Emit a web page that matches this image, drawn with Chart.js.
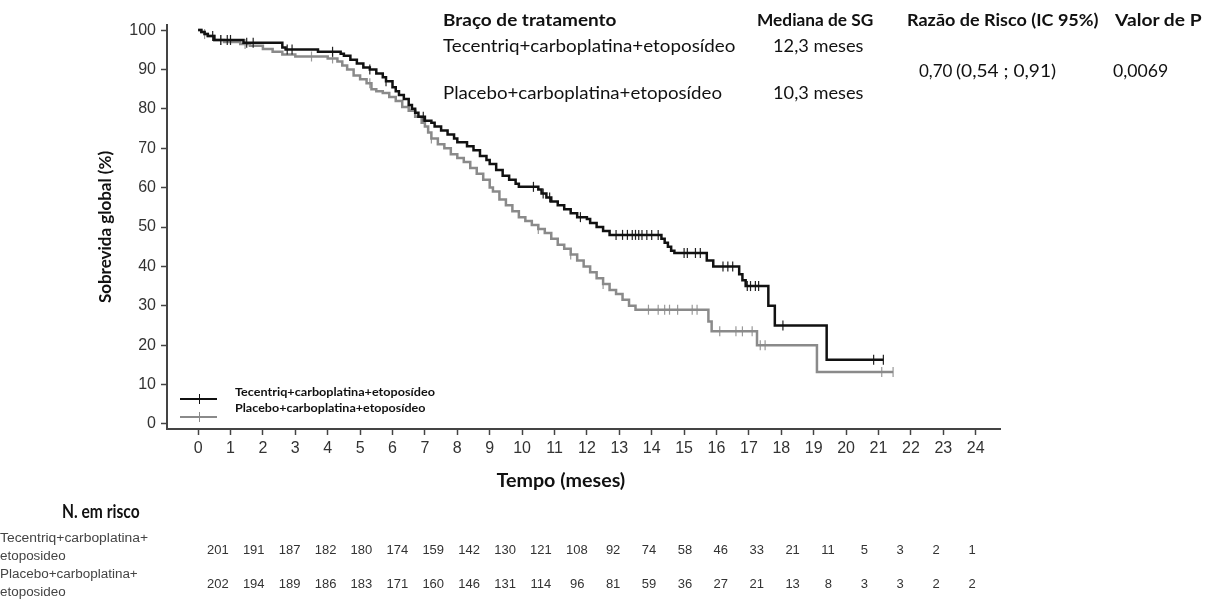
<!DOCTYPE html>
<html><head><meta charset="utf-8">
<script src="https://cdn.jsdelivr.net/npm/chart.js@4.4.1/dist/chart.umd.min.js"></script>
<style>
html,body{margin:0;padding:0;background:#fff;}
#wrap{position:relative;width:1211px;height:612px;overflow:hidden;background:#fff;}
#c{position:absolute;left:0;top:0;}
.t{position:absolute;white-space:pre;line-height:1;transform-origin:0 50%;}
.ln{position:absolute;height:2px;}
.tk{position:absolute;width:1px;height:10px;}
</style></head><body>
<div id="wrap"><canvas id="c" width="1211" height="612"></canvas></div>
<script>
// ---- data ----
const monthTicks = [0,1,2,3,4,5,6,7,8,9,10,11,12,13,14,15,16,17,18,19,20,21,22,23,24];
const survTicks = [0,10,20,30,40,50,60,70,80,90,100];
const armNames = ['Tecentriq+carboplatina+etoposídeo','Placebo+carboplatina+etoposídeo'];
const medians = ['12,3 meses','10,3 meses'];
const headers = ['Braço de tratamento','Mediana de SG','Razão de Risco (IC 95%)','Valor de P'];
const hazardRatio = '0,70';
const hazardCI = '(0,54 ; 0,91)';
const pValue = '0,0069';
const xTitle = 'Tempo (meses)';
const yTitle = 'Sobrevida global (%)';
const riskTitle = 'N. em risco';
const riskLabels = [['Tecentriq+carboplatina+','etoposideo'],['Placebo+carboplatina+','etoposideo']];
const riskTec = [201,191,187,182,180,174,159,142,130,121,108,92,74,58,46,33,21,11,5,3,2,1];
const riskPla = [202,194,189,186,183,171,160,146,131,114,96,81,59,36,27,21,13,8,3,3,2,2];

// Kaplan-Meier steps (time in months, survival % after the event)
const tecTime = [0,0.1,0.2,0.3,0.5,1.4,2.6,2.7,3.7,4.4,4.5,4.7,4.9,5.1,5.3,5.5,5.7,5.8,6.0,6.1,6.2,6.35,6.5,6.6,6.7,6.8,7.0,7.2,7.3,7.5,7.7,7.9,8.0,8.3,8.5,8.7,8.9,9.0,9.2,9.4,9.6,9.8,9.9,10.5,10.6,10.75,10.9,11.1,11.3,11.5,11.7,12.0,12.1,12.3,12.5,12.7,14.3,14.4,14.5,14.6,14.7,15.7,15.9,16.7,16.8,16.9,17.6,17.8,19.4];
const tecSurv = [100,99.5,99,98.5,97.5,96.8,95.6,95.1,94.5,94,93.5,92.5,91.5,90.5,90,89,88,87,85.5,84.5,83.5,82.5,81,80,79,78,77,76.5,75.5,74.5,73.5,72.5,71.5,70.5,69.5,68,67,66,64.5,63,62,61,60.2,59.5,58.5,57.5,56.5,55.5,54.5,53.5,52.5,52,51,50,49,48,47,46,45,44,43.4,41.5,40,38,36.5,35,30,25,16.3];
const tecCensor = [0.45,0.7,0.9,1.0,1.5,1.7,2.75,2.9,4.15,5.3,5.8,6.95,10.35,10.65,10.85,11.8,12.9,13.1,13.25,13.4,13.5,13.6,13.7,13.85,14.0,14.2,15.0,15.1,15.35,15.5,16.2,16.35,16.5,16.95,17.05,17.2,17.3,18.05,20.85,21.15];
const plaTime = [0,0.1,0.2,0.3,0.5,0.8,1.3,1.6,2.0,2.3,2.6,3.0,4.0,4.3,4.45,4.6,4.8,5.0,5.2,5.35,5.5,5.7,5.9,6.1,6.3,6.5,6.7,6.9,7.0,7.1,7.2,7.4,7.6,7.8,8.0,8.2,8.4,8.6,8.8,9.0,9.1,9.3,9.5,9.7,9.9,10.1,10.3,10.5,10.7,10.9,11.1,11.3,11.5,11.7,11.9,12.1,12.3,12.5,12.7,12.9,13.1,13.3,13.5,15.75,15.85,17.25,19.1];
const plaSurv = [100,99.5,99,98.5,97.5,97,96.5,96,95.2,94.5,93.8,93.3,92.8,92,91,90,88.5,87.5,86.5,85,84.5,84,83,82,80.5,79.5,78,76.5,75.5,74,72.5,71,70,68.5,67.5,66.5,65,63.5,62,60,59,57,55.5,54,52.5,51.5,50.5,49.5,48.5,47,45.5,44.5,43,41.5,40,38.5,37,35.5,34,33,31.5,30,29,26,23.5,20,13.2];
const plaCensor = [0.2,0.7,1.45,3.5,4.15,5.3,7.2,10.5,11.5,12.5,13.9,14.2,14.4,14.55,14.8,15.25,15.4,16.1,16.6,16.8,17.1,17.35,17.5,21.1,21.45];

// ---- helpers ----
function survAt(times, surv, t){ let v = surv[0]; for(let i=0;i<times.length;i++){ if(times[i]<=t) v = surv[i]; } return v; }
function curve(times, surv, censor){
  const pts = times.map((t,i)=>({x:t,y:surv[i]}));
  const end = Math.max(...censor);
  pts.push({x:end,y:survAt(times,surv,end)});
  return pts;
}
function marks(times, surv, censor){ return censor.map(t=>({x:t,y:survAt(times,surv,t)})); }

const BLACK = '#111111', GREY = '#8a8a8a';

const ctx = document.getElementById('c').getContext('2d');
new Chart(ctx, {
  type: 'line',
  data: { datasets: [
    {label: armNames[0], data: curve(tecTime,tecSurv,tecCensor), borderColor: BLACK, borderWidth: 2.5, stepped: 'before', pointRadius: 0, fill: false},
    {label: armNames[0]+' cens', data: marks(tecTime,tecSurv,tecCensor), showLine: false, pointStyle: 'line', rotation: 90, pointRadius: 5, pointBorderWidth: 1.2, pointBorderColor: '#222', pointBackgroundColor: '#222'},
    {label: armNames[1], data: curve(plaTime,plaSurv,plaCensor), borderColor: GREY, borderWidth: 2.5, stepped: 'before', pointRadius: 0, fill: false},
    {label: armNames[1]+' cens', data: marks(plaTime,plaSurv,plaCensor), showLine: false, pointStyle: 'line', rotation: 90, pointRadius: 5, pointBorderWidth: 1.2, pointBorderColor: '#999', pointBackgroundColor: '#999'}
  ]},
  options: {
    responsive: false, animation: false, devicePixelRatio: 1,
    layout: {padding: {left: 95, top: 25, right: 211, bottom: 121}},
    plugins: {legend: {display: false}, tooltip: {enabled: false}},
    scales: {
      x: {type: 'linear', min: -0.96, max: 24.75,
        afterBuildTicks: s => { s.ticks = monthTicks.map(v=>({value:v})); },
        afterFit: s => { s.height = 62; },
        ticks: {autoSkip: false, maxRotation: 0, padding: 4, color: '#333', font: {family: 'Liberation Sans', size: 16}},
        grid: {drawOnChartArea: false, drawTicks: true, tickLength: 6, tickWidth: 1.5, tickColor: '#444'},
        border: {display: true, color: '#444', width: 2},
        title: {display: false}
      },
      y: {type: 'linear', min: -1.3, max: 101.3,
        afterBuildTicks: s => { s.ticks = survTicks.map(v=>({value:v})); },
        afterFit: s => { s.width = 72; },
        ticks: {padding: 5, color: '#333', font: {family: 'Liberation Sans', size: 16}},
        grid: {drawOnChartArea: false, drawTicks: true, tickLength: 6, tickWidth: 1.5, tickColor: '#444'},
        border: {display: true, color: '#444', width: 2},
        title: {display: true, text: yTitle, color: '#111', padding: 0, font: {family: 'Lato', weight: 'bold', size: 17}}
      }
    }
  }
});

// ---- text overlays ----
const wrap = document.getElementById('wrap');
const fitList = [];
function txt(s, left, cy, font, w, color, center){
  const d = document.createElement('div');
  d.className = 't'; d.textContent = s;
  d.style.font = font; d.style.color = color || '#111';
  d.style.left = left + 'px'; d.style.top = cy + 'px';
  wrap.appendChild(d);
  fitList.push({d, w, center});
}
function fitAll(){
  for(const f of fitList){
    const h = f.d.getBoundingClientRect().height;
    const nw = f.d.scrollWidth;
    const k = f.w ? f.w / nw : 1;
    const dx = f.center ? -nw*k/2 : 0;
    f.d.style.transformOrigin = '0 50%';
    f.d.style.transform = 'translate(' + dx + 'px,' + (-h/2) + 'px) scaleX(' + k + ')';
  }
}
const F = 'Lato, "Open Sans", sans-serif';
txt(headers[0], 443, 19, 'bold 17px '+F, 174);
txt(headers[1], 757, 19, 'bold 17px '+F, 116);
txt(headers[2], 907, 19, 'bold 17px '+F, 192);
txt(headers[3], 1115, 19, 'bold 17px '+F, 87);
txt(armNames[0], 443, 45, '17px '+F, 292);
txt(medians[0], 773, 45, '17px '+F, 90);
txt(hazardRatio, 919, 70, '17px '+F, null);
txt(hazardCI, 956, 70, '17px '+F, 100);
txt(pValue, 1113, 70, '17px '+F, 55);
txt(armNames[1], 443, 92, '17px '+F, 279);
txt(medians[1], 773, 92, '17px '+F, 90);

// x-axis title
txt(xTitle, 561, 480, 'bold 18px '+F, 129, '#111', true);

// legend
txt(armNames[0], 235, 391, 'bold 12px '+F, 200);
txt(armNames[1], 235, 407, 'bold 12px '+F, 190);
function legLine(y, color){
  const l = document.createElement('div'); l.className='ln';
  l.style.left='180px'; l.style.top=(y-1)+'px'; l.style.width='37px'; l.style.background=color; wrap.appendChild(l);
  const t = document.createElement('div'); t.className='tk';
  t.style.left='199px'; t.style.top=(y-5)+'px'; t.style.background=color; wrap.appendChild(t);
}
legLine(399, BLACK); legLine(417, GREY);

// number at risk
txt(riskTitle, 62, 511, 'bold 18px '+F, 78);
const RF = '12px "Liberation Sans", Arial, sans-serif';
txt(riskLabels[0][0], 0, 538, RF, 148, '#444');
txt(riskLabels[0][1], 0, 556, RF, 66, '#444');
txt(riskLabels[1][0], 0, 574, RF, 138, '#444');
txt(riskLabels[1][1], 0, 592, RF, 66, '#444');
const NF = '13px "Liberation Sans", Arial, sans-serif';
riskTec.forEach((v,i)=>{ txt(String(v), 218 + 35.9*i, 549, NF, null, '#333', true); });
riskPla.forEach((v,i)=>{ txt(String(v), 218 + 35.9*i, 583, NF, null, '#333', true); });

fitAll();
if(document.fonts && document.fonts.ready){ document.fonts.ready.then(fitAll); }
</script>
</body></html>
